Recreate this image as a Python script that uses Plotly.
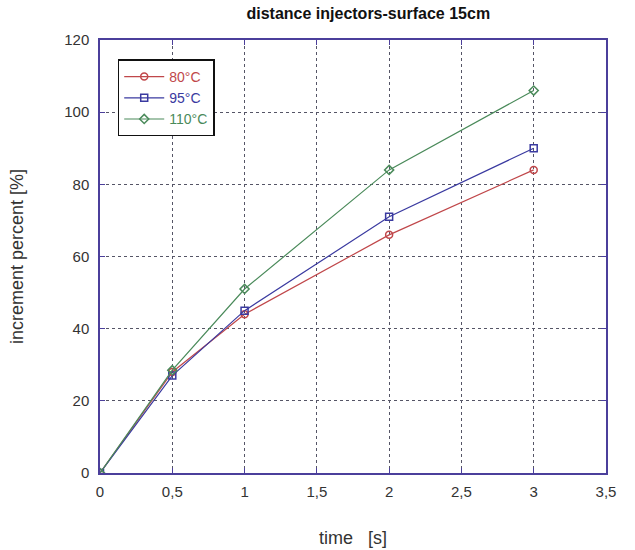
import plotly.graph_objects as go

time_s = [0, 0.5, 1, 2, 3]
series_names = ["80°C", "95°C", "110°C"]
inc_80 = [0, 28, 44, 66, 84]
inc_95 = [0, 27, 45, 71, 90]
inc_110 = [0, 28.5, 51, 84, 106]
x_ticks = [0, 0.5, 1, 1.5, 2, 2.5, 3, 3.5]
x_tick_labels = ["0", "0,5", "1", "1,5", "2", "2,5", "3", "3,5"]
y_ticks = [0, 20, 40, 60, 80, 100, 120]

colors = ["#c0474a", "#3a3aa0", "#4a8a5a"]
symbols = ["circle-open", "square-open", "diamond-open"]

fig = go.Figure()
for name, ys, c, s in zip(series_names, [inc_80, inc_95, inc_110], colors, symbols):
    fig.add_trace(go.Scatter(
        x=time_s, y=ys, mode="lines+markers",
        name=f"<span style='color:{c}'>{name}</span>",
        line=dict(color=c, width=1.2),
        marker=dict(symbol=s, size=7, color=c, line=dict(color=c, width=1.5)),
    ))

axis_color = "#4b3f9b"
fig.update_layout(
    width=635, height=550,
    margin=dict(l=100, r=29, t=40, b=77),
    paper_bgcolor="white", plot_bgcolor="white",
    font=dict(family="Liberation Sans, Arial", size=15, color="#333333"),
    title=dict(text="<b>distance injectors-surface 15cm</b>", x=0.58, xanchor="center",
               y=0.975, yanchor="middle", font=dict(size=16, color="#111111")),
    showlegend=True,
    legend=dict(x=0.035, y=0.955, xanchor="left", yanchor="top",
                bordercolor="#111111", borderwidth=1.5, bgcolor="white",
                font=dict(size=14), itemwidth=40, tracegroupgap=0),
    xaxis=dict(range=[0, 3.5], tickvals=x_ticks, ticktext=x_tick_labels,
               showline=True, linecolor=axis_color, linewidth=1.5, mirror="ticks",
               ticks="inside", ticklen=5, tickcolor=axis_color, ticklabelstandoff=4,
               showgrid=True, gridcolor="#555566", griddash="dot", gridwidth=1,
               zeroline=False, automargin=False,
               title=dict(text="time   [s]", standoff=33)),
    yaxis=dict(range=[0, 120], tickvals=y_ticks,
               showline=True, linecolor=axis_color, linewidth=1.5, mirror="ticks",
               ticks="inside", ticklen=5, tickcolor=axis_color, ticklabelstandoff=6,
               showgrid=True, gridcolor="#555566", griddash="dot", gridwidth=1,
               zeroline=False, automargin=False,
               title=dict(text="increment percent [%]", standoff=36)),
)

fig.write_html("out.html")
